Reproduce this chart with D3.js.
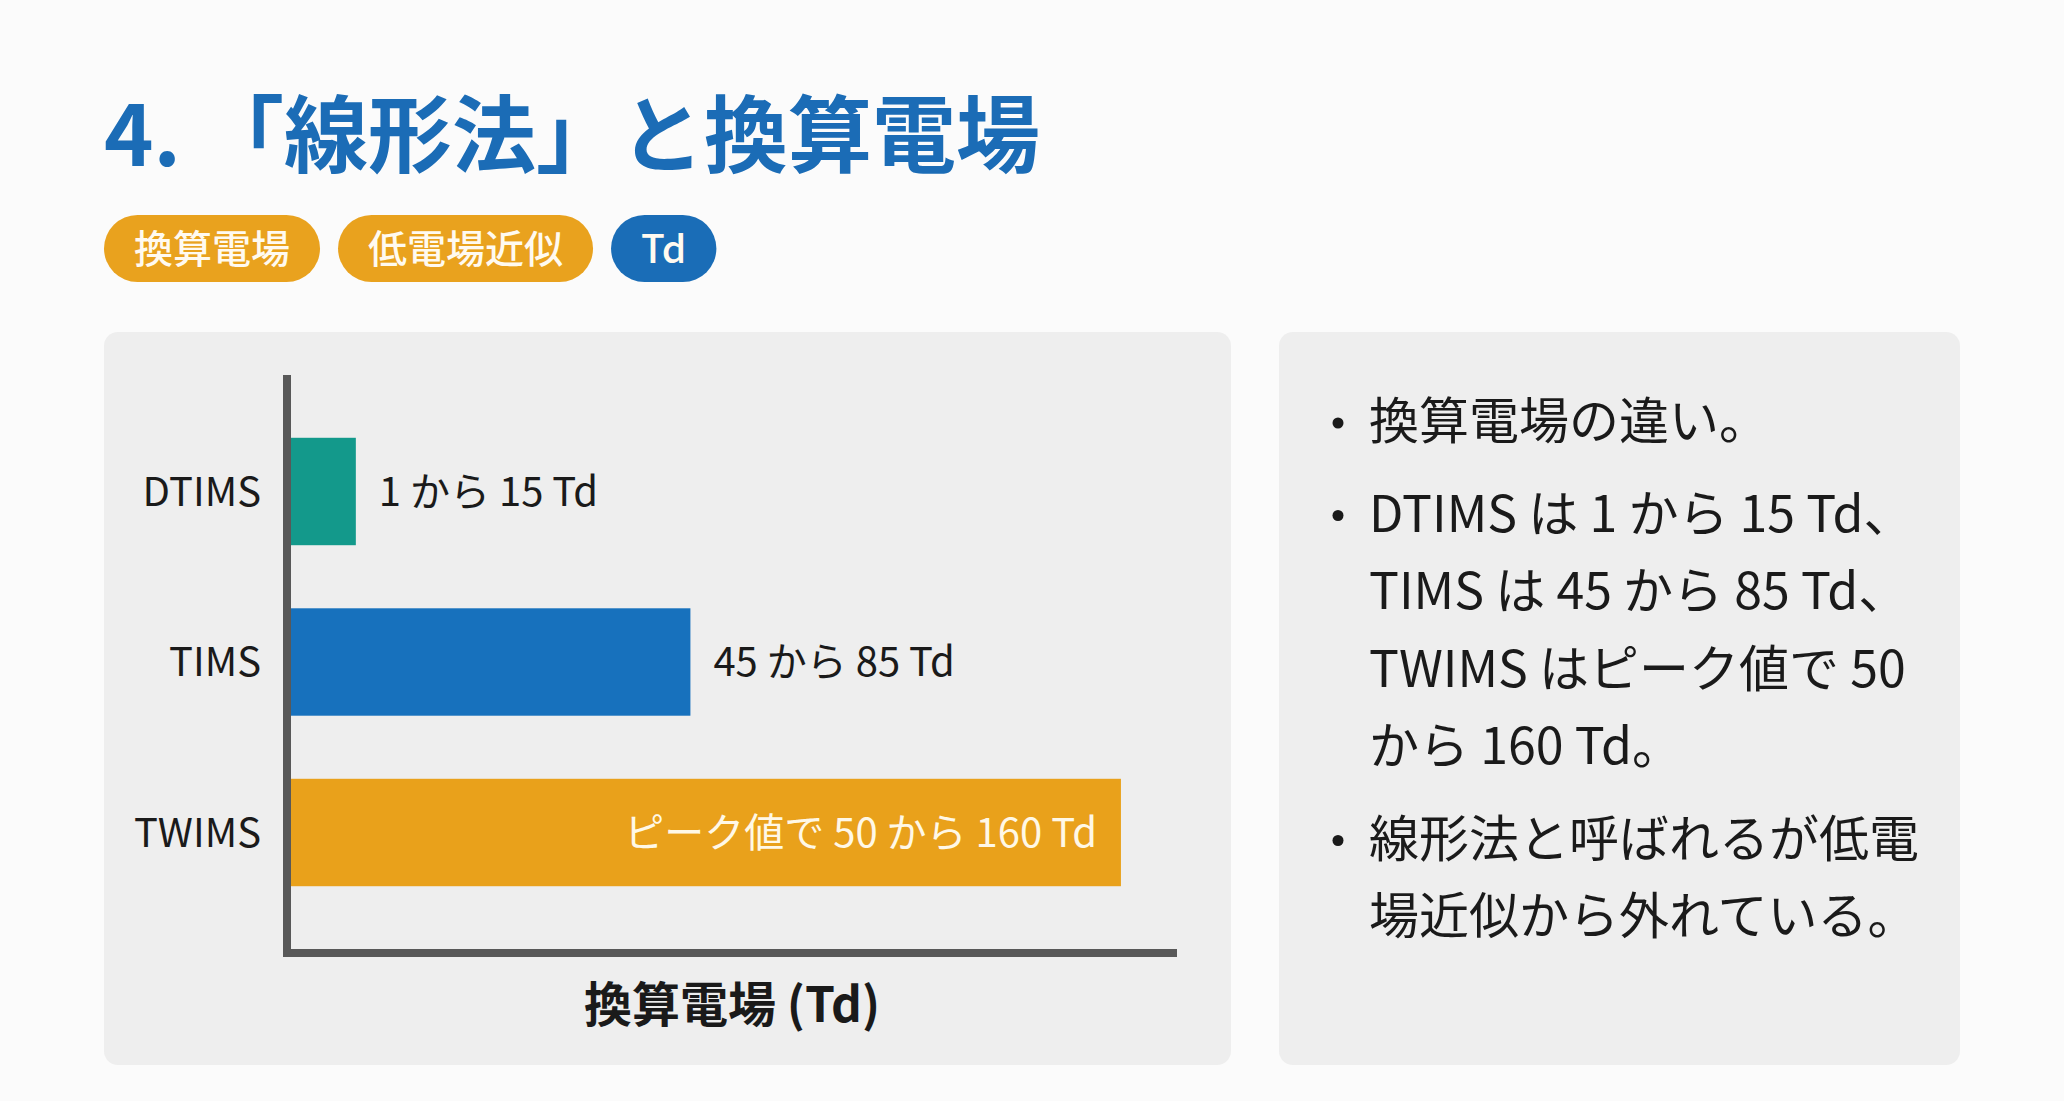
<!DOCTYPE html>
<html>
<head>
<meta charset="utf-8">
<script src="https://cdn.jsdelivr.net/npm/d3@7"></script>
<style>
  html, body { margin: 0; padding: 0; background: #fbfbfb; }
  svg { display: block; }
  text { font-family: "Noto Sans CJK JP", "Noto Sans", sans-serif; }
</style>
</head>
<body>
<svg id="drawing_region"></svg>
<script>
// chart data
const categories = ['DTIMS', 'TIMS', 'TWIMS'];
const barValues = [12.5, 77, 160];   // bar length in Td
const barLabels = ['1 から 15 Td', '45 から 85 Td', 'ピーク値で 50 から 160 Td'];
const barColors = ['#13998b', '#1771bd', '#e9a11b'];
const labelInside = [false, false, true];

const titleText = '4. 「線形法」と換算電場';
const tagTexts = ['換算電場', '低電場近似', 'Td'];
const tagColors = ['#e9a21e', '#e9a21e', '#1a6db7'];
const axisTitle = '換算電場 (Td)';

const bullets = [
    ['換算電場の違い。'],
    ['DTIMS は 1 から 15 Td、', 'TIMS は 45 から 85 Td、', 'TWIMS はピーク値で 50', 'から 160 Td。'],
    ['線形法と呼ばれるが低電', '場近似から外れている。']
];

const config = {
    width: 2064,
    height: 1101,
    chart: { left: 291, right: 1178, top: 373, bottom: 951 },
    xMax: 171
};

const svg = d3.select('#drawing_region')
    .attr('width', config.width)
    .attr('height', config.height);

// title
svg.append('text')
    .attr('x', 104)
    .attr('y', 136 + 0.36 * 84)
    .attr('fill', '#1b6cb6')
    .attr('font-size', 84)
    .attr('font-weight', 700)
    .text(titleText);

// tags
let tagX = 104;
tagTexts.forEach((t, i) => {
    const g = svg.append('g');
    const rect = g.append('rect')
        .attr('y', 215)
        .attr('height', 67)
        .attr('rx', 33.5)
        .attr('fill', tagColors[i]);
    const txt = g.append('text')
        .attr('y', 248.5 + 0.36 * 39)
        .attr('fill', '#fffaf0')
        .attr('font-size', 39)
        .attr('font-weight', 500)
        .attr('text-anchor', 'middle')
        .text(t);
    const w = txt.node().getComputedTextLength() + 60;
    rect.attr('x', tagX).attr('width', w);
    txt.attr('x', tagX + w / 2);
    tagX += w + 18;
});

// panels
svg.append('rect')
    .attr('x', 104).attr('y', 332)
    .attr('width', 1127).attr('height', 733)
    .attr('rx', 14)
    .attr('fill', '#eeeeee');
svg.append('rect')
    .attr('x', 1279).attr('y', 332)
    .attr('width', 681).attr('height', 733)
    .attr('rx', 14)
    .attr('fill', '#eeeeee');

// bar chart
const c = config.chart;
const x = d3.scaleLinear()
    .domain([0, config.xMax])
    .range([c.left, c.right]);
const y = d3.scaleBand()
    .domain(categories)
    .range([c.top, c.bottom])
    .paddingInner(0.37)
    .paddingOuter(0.38);

const data = categories.map((d, i) => ({
    name: d, value: barValues[i], label: barLabels[i], color: barColors[i], inside: labelInside[i]
}));

const bars = svg.append('g').selectAll('g')
    .data(data)
    .enter()
    .append('g');

bars.append('rect')
    .attr('x', x(0))
    .attr('y', d => y(d.name))
    .attr('width', d => x(d.value) - x(0))
    .attr('height', y.bandwidth())
    .attr('fill', d => d.color);

bars.append('text')
    .attr('x', d => d.inside ? x(d.value) - 24 : x(d.value) + 23)
    .attr('y', d => y(d.name) + y.bandwidth() / 2 + 0.36 * 40)
    .attr('text-anchor', d => d.inside ? 'end' : 'start')
    .attr('fill', d => d.inside ? '#fff8e6' : '#1a1a1a')
    .attr('font-size', 40)
    .text(d => d.label);

// category labels
svg.append('g').selectAll('text')
    .data(categories)
    .enter()
    .append('text')
    .attr('x', 261)
    .attr('y', d => y(d) + y.bandwidth() / 2 + 0.36 * 40)
    .attr('text-anchor', 'end')
    .attr('fill', '#1a1a1a')
    .attr('font-size', 40)
    .text(d => d);

// axes lines
svg.append('line')
    .attr('x1', 287).attr('x2', 287)
    .attr('y1', 375).attr('y2', 957)
    .attr('stroke', '#585858')
    .attr('stroke-width', 8);
svg.append('line')
    .attr('x1', 283).attr('x2', 1177)
    .attr('y1', 953).attr('y2', 953)
    .attr('stroke', '#585858')
    .attr('stroke-width', 8);

svg.append('text')
    .attr('x', (287 + 1177) / 2)
    .attr('y', 1005 + 0.36 * 48)
    .attr('text-anchor', 'middle')
    .attr('fill', '#1a1a1a')
    .attr('font-size', 48)
    .attr('font-weight', 700)
    .text(axisTitle);

// bullet list
const bl = svg.append('g');
const lh = 77.5, gap = 15, fs = 50;
let line = 0;
bullets.forEach((para, p) => {
    const cy0 = 421 + line * lh + p * gap;
    bl.append('circle')
        .attr('cx', 1338)
        .attr('cy', cy0 + 2)
        .attr('r', 5.5)
        .attr('fill', '#1a1a1a');
    para.forEach((t, k) => {
        bl.append('text')
            .attr('x', 1369)
            .attr('y', cy0 + k * lh + 0.36 * fs)
            .attr('fill', '#1a1a1a')
            .attr('font-size', fs)
            .text(t);
    });
    line += para.length;
});
</script>
</body>
</html>
